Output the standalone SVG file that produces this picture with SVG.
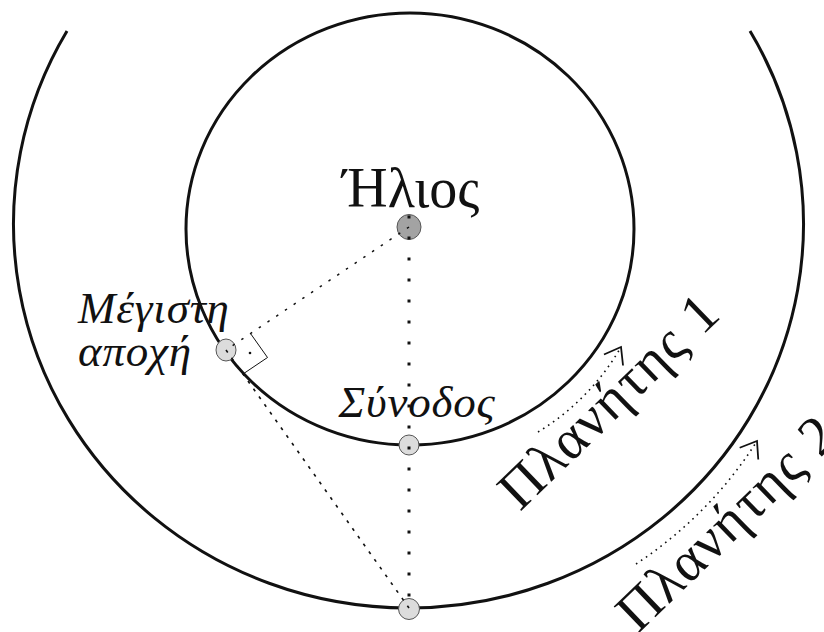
<svg xmlns="http://www.w3.org/2000/svg" width="824" height="632" viewBox="0 0 824 632">
<style>
.orbit{fill:none;stroke:#111;stroke-width:3}
.pt{fill:#dcdcdc;stroke:#555;stroke-width:1}
.sun{fill:#a3a3a3;stroke:#555;stroke-width:1}
.lbl{font-family:"Liberation Serif","DejaVu Serif",serif;fill:#111}
.it{font-style:italic}
.dot{fill:none;stroke:#111}
</style>
<defs>
<marker id="chev" markerUnits="userSpaceOnUse" markerWidth="40" markerHeight="40" viewBox="-20 -20 40 40" refX="0" refY="0" orient="auto">
<path d="M -15,-11 L 0,0 L -15,11" fill="none" stroke="#111" stroke-width="1.8"/>
</marker>
</defs>
<g id="orbits">
<ellipse id="orbit1" class="orbit" cx="410" cy="229" rx="224" ry="216"/>
<path id="orbit2" class="orbit" d="M 67,31 A 395 384 0 1 0 750,31"/>
</g>
<g id="sun"><ellipse class="sun" cx="409" cy="227" rx="12" ry="12.5"/></g>
<g id="conjunction"><circle class="pt" cx="409" cy="445" r="10"/></g>
<g id="elongation"><ellipse class="pt" cx="226" cy="350" rx="10" ry="11"/></g>
<g id="planet2pos"><circle class="pt" cx="409" cy="609" r="10.5"/></g>
<g id="connectors">
<line class="dot" x1="409" y1="215.5" x2="409" y2="610" stroke-width="3" stroke-dasharray="3 18"/>
<line class="dot" x1="409" y1="227" x2="226" y2="350" stroke-width="1.5" stroke-dasharray="2.5 8"/>
<line class="dot" x1="226" y1="350" x2="409" y2="608" stroke-width="1.6" stroke-dasharray="3 6.5"/>
<polyline points="250.5,333.5 267.5,357.5 243,374" fill="none" stroke="#111" stroke-width="1"/>
<circle cx="250" cy="353" r="1.3" fill="#111"/>
<path class="dot" d="M 538,432 A 240 240 0 0 0 621,347" stroke-width="1.6" stroke-dasharray="1.6 4.4" marker-end="url(#chev)"/>
<path class="dot" d="M 636,564 A 409 409 0 0 0 757,441" stroke-width="1.6" stroke-dasharray="1.6 4.4" marker-end="url(#chev)"/>
</g>
<g id="labels">
<text class="lbl" x="411" y="207" font-size="56" text-anchor="middle">Ήλιος</text>
<text class="lbl it" x="78" y="323" font-size="45" letter-spacing="0.8">Μέγιστη</text>
<text class="lbl it" x="78" y="366" font-size="45" letter-spacing="0.8">αποχή</text>
<text class="lbl it" x="417" y="417" font-size="45" letter-spacing="0.8" text-anchor="middle">Σύνοδος</text>
<text class="lbl" transform="translate(520,512) rotate(-44)" font-size="56" letter-spacing="1.5">Πλανήτης 1</text>
<text class="lbl" transform="translate(638,634) rotate(-44)" font-size="56" letter-spacing="1.5">Πλανήτης 2</text>
</g>
</svg>
